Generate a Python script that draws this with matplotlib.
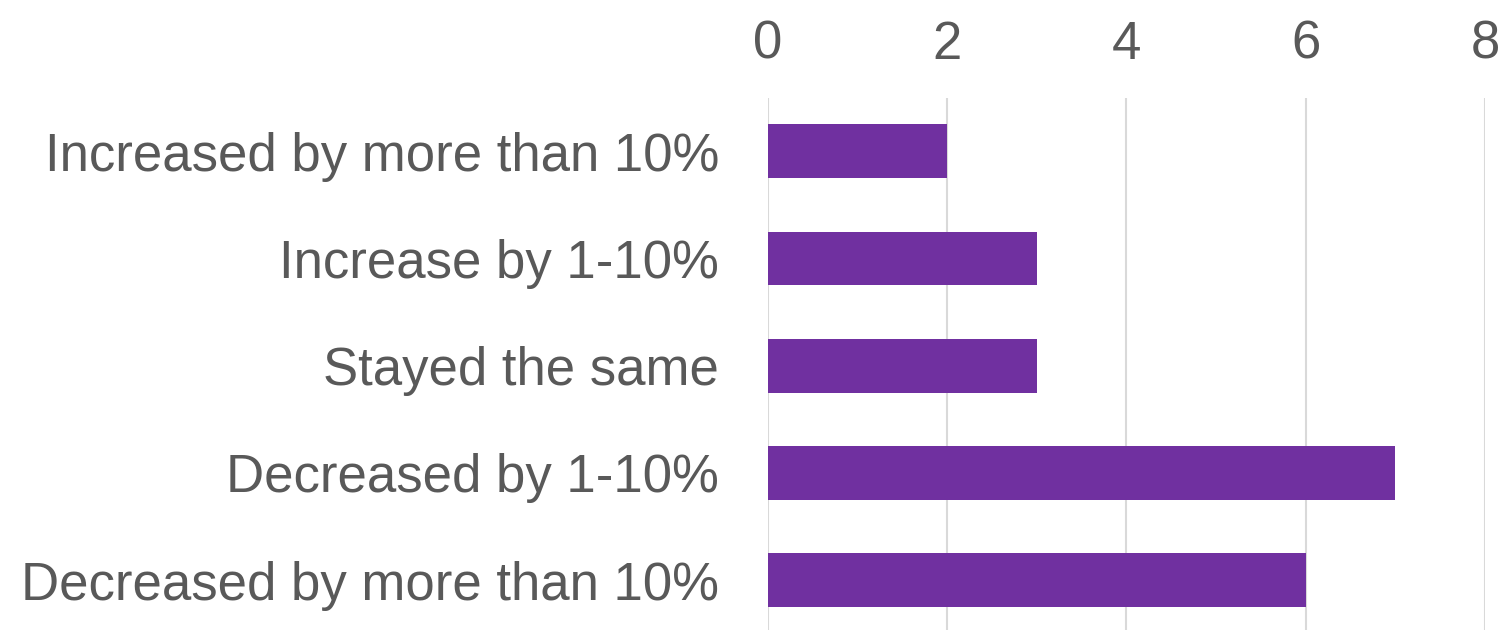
import matplotlib.pyplot as plt

categories = ['Increased by more than 10%', 'Increase by 1-10%', 'Stayed the same',
              'Decreased by 1-10%', 'Decreased by more than 10%']
values = [2, 3, 3, 7, 6]
xticks = [0, 2, 4, 6, 8]

plt.rcParams['font.family'] = ['Liberation Sans', 'DejaVu Sans']

fig = plt.figure(figsize=(15.04, 6.3), dpi=100)
ax = fig.add_axes([0.5106, -0.006, 0.4767, 0.851])

ypos = list(range(len(categories)))
ax.barh(ypos, values, height=0.5, color='#7030A0', zorder=3)
ax.set_ylim(len(categories) - 0.5, -0.5)
ax.set_xlim(0, 8)
ax.set_xticks(xticks)
ax.set_yticks(ypos)
ax.set_yticklabels(categories)
ax.xaxis.tick_top()
ax.tick_params(axis='both', length=0, labelsize=38, colors='#595959')
ax.tick_params(axis='x', pad=20)
ax.tick_params(axis='y', pad=35)
ax.grid(axis='x', color='#D9D9D9', linewidth=1.5, zorder=0)
for s in ax.spines.values():
    s.set_visible(False)

fig.savefig('out.png', dpi=100)
